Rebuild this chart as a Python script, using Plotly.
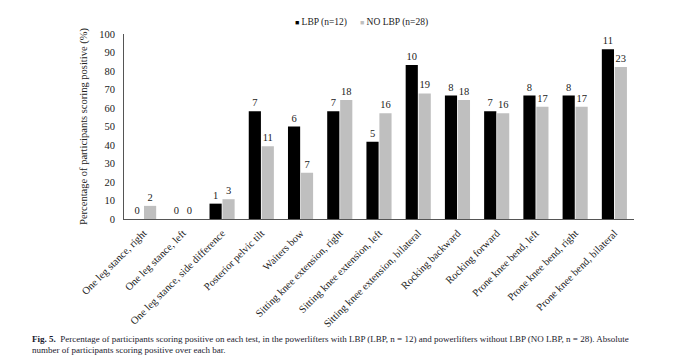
import plotly.graph_objects as go

categories = [
    "One leg stance, right",
    "One leg stance, left",
    "One leg stance, side difference",
    "Posterior pelvic tilt",
    "Waiters bow",
    "Sitting knee extension, right",
    "Sitting knee extension, left",
    "Sitting knee extension, bilateral",
    "Rocking backward",
    "Rocking forward",
    "Prone knee bend, left",
    "Prone knee bend, right",
    "Prone knee bend, bilateral",
]
lbp_pct = [0, 0, 8.3, 58.3, 50.0, 58.3, 41.7, 83.3, 66.7, 58.3, 66.7, 66.7, 91.7]
lbp_count = [0, 0, 1, 7, 6, 7, 5, 10, 8, 7, 8, 8, 11]
nolbp_pct = [7.1, 0, 10.7, 39.3, 25.0, 64.3, 57.1, 67.9, 64.3, 57.1, 60.7, 60.7, 82.1]
nolbp_count = [2, 0, 3, 11, 7, 18, 16, 19, 18, 16, 17, 17, 23]
y_ticks = [0, 10, 20, 30, 40, 50, 60, 70, 80, 90, 100]
series_names = ["LBP (n=12)", "NO LBP (n=28)"]
series_colors = ["#000000", "#bfbfbf"]

SERIF = "Liberation Serif"
TXT = "#222"
W, H = 697, 356
ML, MR, MT, MB = 116, 71, 26, 145
PW = W - ML - MR
PH = H - MT - MB

def px_x(p):
    return (p - ML) / PW

def px_y(p):
    return (H - MB - p) / PH

fig = go.Figure()
for name, vals, counts, col in [
    (series_names[0], lbp_pct, lbp_count, series_colors[0]),
    (series_names[1], nolbp_pct, nolbp_count, series_colors[1]),
]:
    fig.add_trace(go.Bar(
        name=name, x=categories, y=vals,
        text=[str(c) for c in counts], textposition="outside",
        textfont=dict(family=SERIF, size=10.5, color=TXT),
        marker=dict(color=col, line=dict(width=0)),
        cliponaxis=False, showlegend=False,
    ))

annotations = [
    dict(xref="paper", yref="paper", x=px_x(285), y=px_y(15),
         xanchor="left", yanchor="middle", showarrow=False,
         text=f"<span style='color:{series_colors[0]};font-size:7px'>■</span> {series_names[0]}",
         font=dict(family=SERIF, size=9.5, color=TXT)),
    dict(xref="paper", yref="paper", x=px_x(350), y=px_y(15),
         xanchor="left", yanchor="middle", showarrow=False,
         text=f"<span style='color:{series_colors[1]};font-size:7px'>■</span> {series_names[1]}",
         font=dict(family=SERIF, size=9.5, color=TXT)),
    dict(xref="paper", yref="paper", x=px_x(22), y=px_y(331),
         xanchor="left", yanchor="middle", showarrow=False,
         text="<b>Fig. 5.</b>  Percentage of participants scoring positive on each test, in the powerlifters with LBP (LBP, n = 12) and powerlifters without LBP (NO LBP, n = 28). Absolute",
         font=dict(family=SERIF, size=9, color="#1a1a2e")),
    dict(xref="paper", yref="paper", x=px_x(22), y=px_y(342),
         xanchor="left", yanchor="middle", showarrow=False,
         text="number of participants scoring positive over each bar.",
         font=dict(family=SERIF, size=9, color="#1a1a2e")),
]

fig.update_layout(
    width=W, height=H,
    margin=dict(l=ML, r=MR, t=MT, b=MB, autoexpand=False),
    paper_bgcolor="white", plot_bgcolor="white",
    barmode="group", bargap=0.34, bargroupgap=0.06,
    font=dict(family=SERIF, size=10, color=TXT),
    showlegend=False,
    xaxis=dict(
        tickangle=-45, showline=True, linecolor="#555", linewidth=1,
        ticks="", showgrid=False, ticklabelstandoff=3,
        tickfont=dict(family=SERIF, size=10.5, color=TXT),
    ),
    yaxis=dict(
        range=[0, 100], tickvals=y_ticks, showline=True, linecolor="#555",
        linewidth=1, ticks="", showgrid=False, zeroline=False,
        ticklabelstandoff=6,
        tickfont=dict(family=SERIF, size=10.5, color=TXT),
        title=dict(text="Percentage of participants scoring positive (%)",
                   font=dict(family=SERIF, size=10.5, color=TXT), standoff=9),
    ),
    annotations=annotations,
)

fig.write_html("out.html")
